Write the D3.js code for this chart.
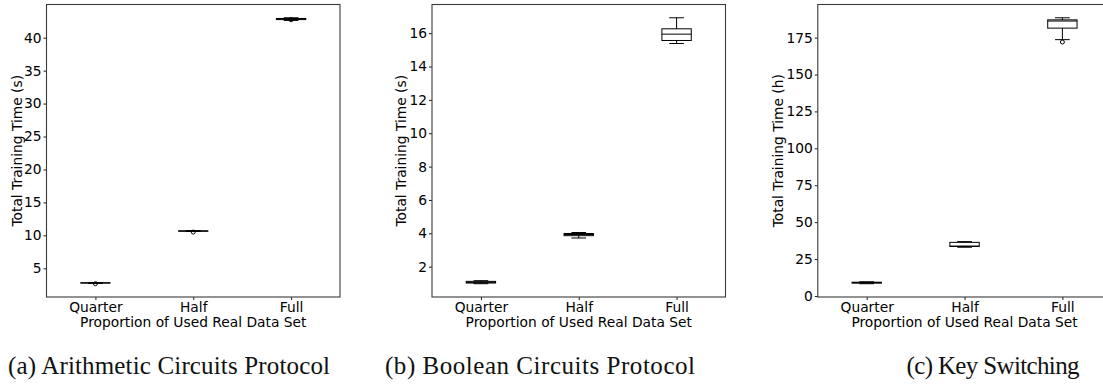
<!DOCTYPE html>
<html>
<head>
<meta charset="utf-8">
<script src="https://cdn.jsdelivr.net/npm/d3@7"></script>
<style>
  html, body { margin: 0; padding: 0; background: #fff; }
  svg { display: block; }
  .tick text { font-family: "DejaVu Sans", sans-serif; }
</style>
</head>
<body>
<svg id="chart" width="1103" height="388"></svg>
<script>
// ---------- data ----------
const categories = ["Quarter", "Half", "Full"];

// per category: [lower whisker, q1, median, q3, upper whisker]
const arithmeticStats = [
  [2.72, 2.76, 2.78, 2.80, 2.84],
  [10.60, 10.63, 10.65, 10.68, 10.71],
  [42.62, 42.75, 42.85, 42.92, 43.02]
];
const arithmeticOutliers = [[2.66], [10.50], [42.72]];

const booleanStats = [
  [0.98, 1.02, 1.06, 1.12, 1.16],
  [3.72, 3.86, 3.93, 3.99, 4.05],
  [15.38, 15.56, 15.94, 16.26, 16.92]
];
const booleanOutliers = [[], [], []];

const keySwitchStats = [
  [8.3, 8.7, 9.0, 9.3, 9.6],
  [33.0, 33.5, 33.8, 36.3, 36.8],
  [173.6, 181.4, 186.2, 187.0, 188.4]
];
const keySwitchOutliers = [[], [], [172.0]];

const arithmeticTicks = [5, 10, 15, 20, 25, 30, 35, 40];
const booleanTicks = [2, 4, 6, 8, 10, 12, 14, 16];
const keySwitchTicks = [0, 25, 50, 75, 100, 125, 150, 175];

const yLabels = ["Total Training Time (s)", "Total Training Time (s)", "Total Training Time (h)"];
const xLabel = "Proportion of Used Real Data Set";
const captions = ["(a) Arithmetic Circuits Protocol", "(b) Boolean Circuits Protocol", "(c) Key Switching"];

// ---------- layout ----------
const svg = d3.select("#chart");
const panels = [
  { left: 46.5, stats: arithmeticStats, outliers: arithmeticOutliers, ticks: arithmeticTicks, ylab: yLabels[0], ylabX: 21.5, cap: captions[0], capX: 169, capW: 322 },
  { left: 432.0, stats: booleanStats, outliers: booleanOutliers, ticks: booleanTicks, ylab: yLabels[1], ylabX: 405.5, cap: captions[1], capX: 540, capW: 310 },
  { left: 817.8, stats: keySwitchStats, outliers: keySwitchOutliers, ticks: keySwitchTicks, ylab: yLabels[2], ylabX: 782.5, cap: captions[2], capX: 993, capW: 173 }
];
const axW = 293.5, axTop = 4.5, axBottom = 297;
const tickFont = 13.8;

panels.forEach(p => {
  const g = svg.append("g");
  const allVals = p.stats.flat().concat(p.outliers.flat());
  const lo = d3.min(allVals), hi = d3.max(allVals), r = hi - lo;
  const y = d3.scaleLinear().domain([lo - 0.05 * r, hi + 0.05 * r]).range([axBottom, axTop]);
  const x = d3.scalePoint().domain(categories).range([p.left, p.left + axW]).padding(0.5);
  const step = x.step();
  const boxW = 0.3 * step, capW = 0.15 * step;

  const yAxis = d3.axisLeft(y).tickValues(p.ticks).tickSize(3).tickPadding(2).tickFormat(d3.format("d"));
  const gy = g.append("g").attr("transform", `translate(${p.left},0)`).call(yAxis);
  const xAxis = d3.axisBottom(x).tickSize(3).tickPadding(2.5);
  const gx = g.append("g").attr("transform", `translate(0,${axBottom})`).call(xAxis);
  [gx, gy].forEach(a => {
    a.select(".domain").remove();
    a.selectAll(".tick line").attr("stroke", "#000").attr("stroke-width", 0.9);
    a.selectAll(".tick text").attr("font-size", tickFont).attr("fill", "#000");
  });

  g.append("rect").attr("x", p.left).attr("y", axTop).attr("width", axW).attr("height", axBottom - axTop)
    .attr("fill", "none").attr("stroke", "#3a3a3a").attr("stroke-width", 1.1);

  categories.forEach((c, i) => {
    const [wl, q1, med, q3, wh] = p.stats[i];
    const cx = x(c);
    const bg = g.append("g").attr("stroke", "#000").attr("stroke-width", 1).attr("fill", "none");
    bg.append("line").attr("x1", cx).attr("x2", cx).attr("y1", y(q1)).attr("y2", y(wl));
    bg.append("line").attr("x1", cx).attr("x2", cx).attr("y1", y(q3)).attr("y2", y(wh));
    bg.append("line").attr("x1", cx - capW / 2).attr("x2", cx + capW / 2).attr("y1", y(wl)).attr("y2", y(wl));
    bg.append("line").attr("x1", cx - capW / 2).attr("x2", cx + capW / 2).attr("y1", y(wh)).attr("y2", y(wh));
    bg.append("rect").attr("x", cx - boxW / 2).attr("width", boxW)
      .attr("y", y(q3)).attr("height", Math.max(0.01, y(q1) - y(q3)));
    bg.append("line").attr("x1", cx - boxW / 2).attr("x2", cx + boxW / 2).attr("y1", y(med)).attr("y2", y(med));
    p.outliers[i].forEach(o => {
      bg.append("circle").attr("cx", cx).attr("cy", y(o)).attr("r", 2);
    });
  });

  g.append("text").attr("x", x("Half")).attr("y", 327).attr("text-anchor", "middle")
    .attr("font-family", "DejaVu Sans, sans-serif").attr("font-size", tickFont).text(xLabel);
  g.append("text").attr("transform", `translate(${p.ylabX},${(axTop + axBottom) / 2}) rotate(-90)`)
    .attr("text-anchor", "middle").attr("font-family", "DejaVu Sans, sans-serif")
    .attr("font-size", tickFont).text(p.ylab);
  g.append("text").attr("x", p.capX).attr("y", 374).attr("text-anchor", "middle")
    .attr("font-family", "Liberation Serif, serif").attr("font-size", 25).attr("fill", "#111")
    .attr("textLength", p.capW).attr("lengthAdjust", "spacing").text(p.cap);
});
</script>
</body>
</html>
